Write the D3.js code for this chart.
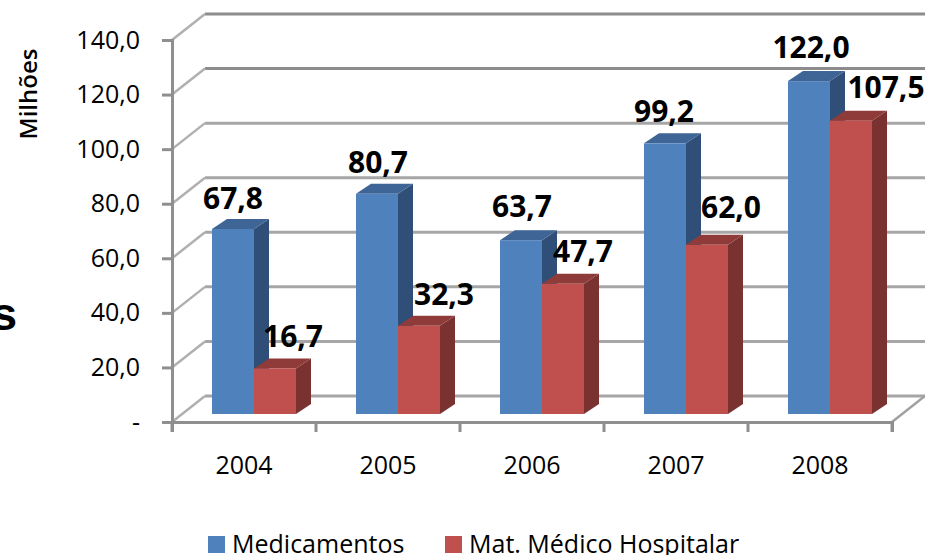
<!DOCTYPE html>
<html lang="en">
<head>
<meta charset="UTF-8">
<title>Medicamentos e Mat. Médico Hospitalar</title>
<script src="https://d3js.org/d3.v7.min.js"></script>
<style>
    html, body { margin: 0; padding: 0; background: #fff; overflow: hidden; }
    svg { display: block; }
    text { font-family: "Open Sans", sans-serif; fill: #000; }
</style>
</head>
<body>
<svg id="chart" width="925" height="555"></svg>
<script>
const years = ["2004", "2005", "2006", "2007", "2008"];
const medicamentos = [67.8, 80.7, 63.7, 99.2, 122.0];
const matMedico = [16.7, 32.3, 47.7, 62.0, 107.5];
const yTicks = [0, 20, 40, 60, 80, 100, 120, 140];
const seriesNames = ["Medicamentos", "Mat. Médico Hospitalar"];

const svg = d3.select("#chart");
const ptBR = v => v === 0 ? "-" : v.toFixed(1).replace(".", ",");

// front plane of the axis box
const plotLeft = 172, plotRight = 892, plotTop = 40, plotBottom = 422;
const wallDx = 33, wallDy = -26;   // floor depth
const barDx = 15, barDy = -10;     // bar depth
const barLift = 8;                 // bars stand a little behind the front edge

const x = d3.scaleBand().domain(years).range([plotLeft, plotRight]);
const y = d3.scaleLinear().domain([0, 140]).range([plotBottom, plotTop]);
const barW = 42, groupPad = 40;

// back wall grid and the diagonals on the side wall
const grid = svg.append("g");
yTicks.forEach(t => {
    grid.append("line")
        .attr("x1", plotLeft + wallDx).attr("x2", 925)
        .attr("y1", y(t) + wallDy).attr("y2", y(t) + wallDy)
        .attr("stroke", t >= 120 ? "#8c8c8c" : "#a6a6a6").attr("stroke-width", 3);
    grid.append("line")
        .attr("x1", plotLeft).attr("x2", plotLeft + wallDx)
        .attr("y1", y(t)).attr("y2", y(t) + wallDy)
        .attr("stroke", "#b0b0b0").attr("stroke-width", 2.5);
});
grid.append("line")
    .attr("x1", plotRight).attr("x2", plotRight + wallDx)
    .attr("y1", plotBottom).attr("y2", plotBottom + wallDy)
    .attr("stroke", "#a0a0a0").attr("stroke-width", 2.5);

// axes
const yAxis = svg.append("g")
    .attr("transform", `translate(${plotLeft},0)`)
    .call(d3.axisLeft(y).tickValues(yTicks).tickFormat(ptBR).tickSize(10).tickPadding(22));
const xAxis = svg.append("g")
    .attr("transform", `translate(0,${plotBottom})`)
    .call(d3.axisBottom(x).tickSize(10).tickSizeOuter(10).tickPadding(24));
[yAxis, xAxis].forEach(a => {
    a.selectAll("path, line").attr("stroke", "#8f8f8f").attr("stroke-width", 3);
    a.select(".domain").attr("fill", "none");
    a.attr("font-size", null).attr("font-family", null);
    a.selectAll("text").style("font-size", "25px").attr("fill", "#000");
});
// category ticks sit between the groups
xAxis.selectAll(".tick line").attr("transform", `translate(${-x.bandwidth() / 2},0)`);
xAxis.append("line")
    .attr("x1", plotRight).attr("x2", plotRight).attr("y1", 0).attr("y2", 10)
    .attr("stroke", "#8f8f8f").attr("stroke-width", 3);

// y axis title
svg.append("text")
    .attr("transform", "translate(37,94) rotate(-90)")
    .attr("text-anchor", "middle")
    .style("font-size", "24px")
    .style("font-weight", 600)
    .text("Milhões");

// cut-off letter left over at the page edge
svg.append("text")
    .attr("x", -9).attr("y", 330)
    .style("font-family", "'Liberation Sans', sans-serif")
    .style("font-size", "47px")
    .style("font-weight", 700)
    .text("s");

// 3D bars: front, top and side faces
const barColors = [
    { front: "#4f81bd", top: "#3e6596", side: "#2f4f78" },
    { front: "#c0504d", top: "#8f3b39", side: "#7a3230" }
];

function drawBars(values, idx) {
    const c = barColors[idx];
    const g = svg.append("g");
    const x0 = d => x(d) + groupPad + idx * barW;
    const yTop = v => y(v) - barLift;
    const base = y(0) - barLift;

    values.forEach((v, i) => {
        const a = x0(years[i]), b = a + barW, t = yTop(v);
        g.append("path").attr("fill", c.side)
            .attr("d", d3.line()([[b, t], [b + barDx, t + barDy], [b + barDx, base + barDy], [b, base]]));
        g.append("path").attr("fill", c.top)
            .attr("d", d3.line()([[a, t], [a + barDx, t + barDy], [b + barDx, t + barDy], [b, t]]));
        g.append("rect").attr("fill", c.front)
            .attr("x", a).attr("y", t).attr("width", barW).attr("height", base - t);
    });
}
drawBars(medicamentos, 0);
drawBars(matMedico, 1);

// data labels, with the hand placed offsets the source chart has
function drawLabels(values, idx, nudgeX, nudgeY) {
    svg.append("g").selectAll("text").data(values).join("text")
        .attr("x", (d, i) => x(years[i]) + groupPad + idx * barW + barW / 2 + nudgeX[i])
        .attr("y", (d, i) => y(d) - barLift + nudgeY[i])
        .attr("text-anchor", "middle")
        .style("font-size", "30px")
        .style("font-weight", 700)
        .text(ptBR);
}
drawLabels(medicamentos, 0, [0, 1, 1, -1, 2], [-20, -21, -23, -21, -23]);
drawLabels(matMedico, 1, [18, 25, 20, 24, 35], [-21, -21, -22, -27, -23]);

// legend, runs off the bottom of the picture as in the source
const legendX = [208, 445];
const legend = svg.append("g").selectAll("g").data(seriesNames).join("g")
    .attr("transform", (d, i) => `translate(${legendX[i]},536)`);
legend.append("rect")
    .attr("width", 17).attr("height", 17)
    .attr("fill", (d, i) => barColors[i].front);
legend.append("text")
    .attr("x", 24).attr("y", 17)
    .style("font-size", "25px")
    .text(d => d);
</script>
</body>
</html>
